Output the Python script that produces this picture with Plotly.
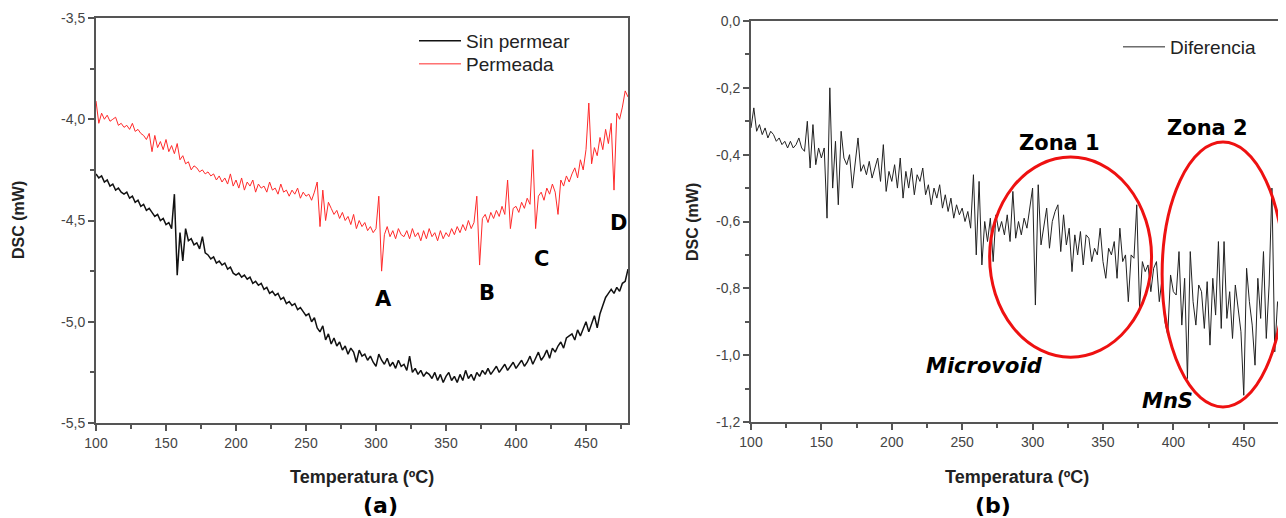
import plotly.graph_objects as go

# temperature grid shared by all curves (ºC)
temps = list(range(100, 481, 2))

# panel (a): DSC curves, mW
sin_permear = [
    -4.27, -4.29, -4.28, -4.31, -4.30, -4.33, -4.32, -4.35, -4.34, -4.36,
    -4.37, -4.36, -4.39, -4.38, -4.41, -4.40, -4.43, -4.42, -4.45, -4.44,
    -4.46, -4.48, -4.47, -4.50, -4.49, -4.52, -4.51, -4.54, -4.37, -4.77,
    -4.56, -4.70, -4.54, -4.60, -4.59, -4.62, -4.61, -4.64, -4.58, -4.66,
    -4.67, -4.69, -4.68, -4.71, -4.70, -4.72, -4.71, -4.74, -4.73, -4.76,
    -4.77, -4.76, -4.78, -4.77, -4.79, -4.78, -4.81, -4.80, -4.82, -4.81,
    -4.84, -4.83, -4.86, -4.85, -4.87, -4.86, -4.89, -4.88, -4.91, -4.90,
    -4.92, -4.91, -4.94, -4.93, -4.95, -4.97, -4.96, -5.00, -4.98, -5.03,
    -5.05, -5.02, -5.09, -5.06, -5.11, -5.08, -5.12, -5.10, -5.14, -5.12,
    -5.16, -5.13, -5.15, -5.20, -5.14, -5.17, -5.16, -5.19, -5.17, -5.20,
    -5.22, -5.16, -5.19, -5.21, -5.18, -5.22, -5.20, -5.23, -5.19, -5.22,
    -5.21, -5.24, -5.17, -5.25, -5.23, -5.26, -5.24, -5.27, -5.25, -5.26,
    -5.28, -5.25, -5.29, -5.26, -5.30, -5.27, -5.25, -5.29, -5.27, -5.30,
    -5.26, -5.29, -5.24, -5.28, -5.26, -5.29, -5.25, -5.27, -5.24, -5.26,
    -5.23, -5.26, -5.24, -5.22, -5.25, -5.23, -5.21, -5.24, -5.22, -5.20,
    -5.23, -5.21, -5.19, -5.22, -5.20, -5.17, -5.21, -5.18, -5.15, -5.19,
    -5.17, -5.14, -5.18, -5.13, -5.15, -5.12, -5.10, -5.13, -5.08, -5.07,
    -5.06, -5.09, -5.04, -5.07, -5.03, -5.00, -5.05, -5.01, -4.97, -5.03,
    -4.96, -4.92, -4.88, -4.86, -4.84, -4.86, -4.83, -4.85, -4.81, -4.80,
    -4.74,
]
permeada = [
    -3.91, -4.02, -3.97, -4.00, -3.98, -4.01, -4.00, -3.99, -4.03, -4.02,
    -4.04, -4.03, -4.05, -4.02, -4.06, -4.05, -4.07, -4.08, -4.10, -4.07,
    -4.16, -4.08, -4.14, -4.11, -4.15, -4.10, -4.16, -4.13, -4.17, -4.12,
    -4.20, -4.18, -4.22, -4.21, -4.25, -4.23, -4.24, -4.26, -4.25, -4.27,
    -4.26, -4.28, -4.27, -4.30, -4.28, -4.31, -4.29, -4.32, -4.27, -4.33,
    -4.30, -4.34, -4.29, -4.35, -4.31, -4.33, -4.30, -4.36, -4.32, -4.34,
    -4.33, -4.36, -4.31, -4.35, -4.34, -4.37, -4.32, -4.36, -4.35, -4.38,
    -4.35, -4.37, -4.34, -4.39, -4.36, -4.38, -4.37, -4.40, -4.36, -4.31,
    -4.53, -4.35, -4.50, -4.41, -4.44, -4.47, -4.45, -4.49, -4.46, -4.50,
    -4.48, -4.52, -4.47, -4.54, -4.50, -4.53, -4.51, -4.55, -4.53, -4.56,
    -4.54, -4.38, -4.75, -4.57, -4.53, -4.58, -4.55, -4.59, -4.54, -4.57,
    -4.58, -4.55, -4.59, -4.54, -4.58, -4.56, -4.60, -4.55, -4.59, -4.54,
    -4.58, -4.56, -4.60, -4.55, -4.59, -4.56, -4.58, -4.54, -4.57, -4.53,
    -4.56, -4.52, -4.55, -4.50, -4.54, -4.51, -4.38, -4.72, -4.49, -4.47,
    -4.51, -4.46, -4.49, -4.45, -4.48, -4.43, -4.47, -4.30, -4.54, -4.44,
    -4.43, -4.46, -4.41, -4.44, -4.39, -4.42, -4.15, -4.54, -4.38, -4.36,
    -4.40, -4.34, -4.37, -4.32, -4.36, -4.47, -4.30, -4.33, -4.28, -4.31,
    -4.27, -4.24, -4.29, -4.20, -4.25, -4.15, -3.92, -4.22, -4.14, -4.18,
    -4.09, -4.15, -4.05, -4.12, -4.02, -4.35, -3.97, -4.00, -3.94, -3.86,
    -3.89,
]

# panel (b): difference curve, mW
diferencia = [
    -0.32, -0.26, -0.33, -0.31, -0.34, -0.32, -0.35, -0.33, -0.34, -0.36,
    -0.35, -0.37, -0.36, -0.38, -0.36, -0.38, -0.37, -0.35, -0.38, -0.39,
    -0.30, -0.44, -0.31, -0.43, -0.38, -0.41, -0.38, -0.59, -0.20, -0.50,
    -0.36, -0.55, -0.33, -0.41, -0.43, -0.40, -0.50, -0.42, -0.35, -0.45,
    -0.43, -0.46, -0.42, -0.47, -0.44, -0.41, -0.48, -0.37, -0.51, -0.45,
    -0.48, -0.43, -0.50, -0.41, -0.53, -0.45, -0.50, -0.44, -0.52, -0.46,
    -0.48, -0.44, -0.52, -0.49, -0.55, -0.50, -0.53, -0.49, -0.56, -0.52,
    -0.57, -0.53, -0.59, -0.55, -0.58, -0.56, -0.60, -0.57, -0.62, -0.46,
    -0.70, -0.48, -0.73, -0.60, -0.66, -0.59, -0.72, -0.58, -0.63, -0.60,
    -0.64, -0.58, -0.66, -0.51, -0.65, -0.60, -0.64, -0.59, -0.62, -0.56,
    -0.50, -0.85, -0.49, -0.67, -0.62, -0.56, -0.68, -0.60, -0.57, -0.55,
    -0.69, -0.58, -0.67, -0.62, -0.75, -0.64, -0.70, -0.63, -0.73, -0.64,
    -0.65, -0.72, -0.68, -0.70, -0.62, -0.72, -0.77, -0.68, -0.70, -0.66,
    -0.77, -0.62, -0.72, -0.70, -0.84, -0.70, -0.71, -0.55, -0.86, -0.72,
    -0.75, -0.73, -0.81, -0.74, -0.72, -0.84, -0.77, -0.90, -0.94, -0.76,
    -0.81, -0.82, -0.69, -0.91, -0.77, -1.07, -0.69, -0.84, -0.91, -0.79,
    -0.81, -0.92, -0.78, -0.97, -0.77, -0.88, -0.66, -0.92, -0.66, -0.89,
    -0.81, -0.95, -0.79, -0.86, -0.93, -1.12, -0.74, -0.84, -0.91, -1.03,
    -0.77, -0.89, -0.69, -0.95, -0.79, -0.50, -0.99, -0.84, -0.89, -0.97,
    -0.93,
]

# y tick labels as printed (plain hyphen, decimal comma)
yticks_a = [-5.5, -5.0, -4.5, -4.0, -3.5]
ylabels_a = ["-5,5", "-5,0", "-4,5", "-4,0", "-3,5"]
yticks_b = [-1.2, -1.0, -0.8, -0.6, -0.4, -0.2, 0.0]
ylabels_b = ["-1,2", "-1,0", "-0,8", "-0,6", "-0,4", "-0,2", "0,0"]

# peak labels in panel (a)
peak_labels = ["A", "B", "C", "D"]
peak_x = [305, 379, 418, 473]
peak_y = [-4.89, -4.86, -4.69, -4.51]

# the page body has an 8px margin, so the figure is shifted by that much
OFF = 8
W, H = 1286 - OFF, 518 - OFF


def fx(px):
    return (px - OFF) / W


def fy(py):
    return 1 - (py - OFF) / H


axis_col = "#555555"
tick_font = dict(family="Liberation Sans, Arial", size=14, color="#444444")
bold_font = dict(family="DejaVu Sans", size=21, color="black")
legend_font = dict(family="Liberation Sans, Arial", size=19, color="#222222")

fig = go.Figure()
fig.add_trace(go.Scatter(x=temps, y=sin_permear, name="Sin permear", mode="lines",
                         line=dict(color="#111111", width=1.5), legend="legend"))
fig.add_trace(go.Scatter(x=temps, y=permeada, name="Permeada", mode="lines",
                         line=dict(color="#ff2a2a", width=1), legend="legend2"))
fig.add_trace(go.Scatter(x=temps, y=diferencia, name="Diferencia", mode="lines",
                         line=dict(color="#222222", width=1),
                         xaxis="x2", yaxis="y2", legend="legend3"))

xcommon = dict(range=[100, 480], dtick=50, ticks="outside", ticklen=6, tickwidth=1.5,
               tickcolor=axis_col, showline=True, linecolor=axis_col, linewidth=2,
               mirror=True, showgrid=False, zeroline=False, tickfont=tick_font,
               automargin=False,
               minor=dict(dtick=25, ticks="outside", ticklen=4, tickcolor=axis_col))
ycommon = dict(ticks="outside", ticklen=6, tickwidth=1.5, tickcolor=axis_col,
               showline=True, linecolor=axis_col, linewidth=2, mirror=True,
               showgrid=False, zeroline=False, tickfont=tick_font,
               automargin=False, tickmode="array")
leg_common = dict(xanchor="left", yanchor="top", itemwidth=42,
                  bgcolor="rgba(0,0,0,0)", font=legend_font)

fig.update_layout(
    width=W, height=H,
    margin=dict(l=0, r=0, t=0, b=0, autoexpand=False),
    paper_bgcolor="white", plot_bgcolor="white",
    showlegend=True,
    xaxis=dict(xcommon, domain=[fx(96), fx(628)], anchor="y"),
    yaxis=dict(ycommon, domain=[fy(423), fy(18)], anchor="x",
               range=[-5.5, -3.5], tickvals=yticks_a, ticktext=ylabels_a,
               minor=dict(dtick=0.25, ticks="outside", ticklen=4, tickcolor=axis_col)),
    xaxis2=dict(xcommon, domain=[fx(751), 1.0], anchor="y2"),
    yaxis2=dict(ycommon, domain=[fy(422), fy(21)], anchor="x2",
                range=[-1.2, 0.0], tickvals=yticks_b, ticktext=ylabels_b,
                minor=dict(dtick=0.1, ticks="outside", ticklen=4, tickcolor=axis_col)),
    legend=dict(leg_common, x=fx(414), y=fy(22)),
    legend2=dict(leg_common, x=fx(414), y=fy(45)),
    legend3=dict(leg_common, x=fx(1118), y=fy(28)),
)

annotations = []
for lab, px_, py_ in zip(peak_labels, peak_x, peak_y):
    annotations.append(dict(x=px_, y=py_, xref="x", yref="y", text="<b>%s</b>" % lab,
                            showarrow=False, font=bold_font))

for cx, cy in [(18, 220), (692, 222)]:
    annotations.append(dict(x=fx(cx), y=fy(cy), xref="paper", yref="paper",
                            xanchor="center", yanchor="middle",
                            text="<b>DSC (mW)</b>", textangle=-90, showarrow=False,
                            font=dict(family="Liberation Sans, Arial", size=16,
                                      color="#222222")))
for cx in [362, 1017]:
    annotations.append(dict(x=fx(cx), y=fy(477), xref="paper", yref="paper",
                            xanchor="center", yanchor="middle",
                            text="<b>Temperatura (ºC)</b>", showarrow=False,
                            font=dict(family="Liberation Sans, Arial", size=18,
                                      color="#222222")))
for cx, lab in [(380, "(a)"), (993, "(b)")]:
    annotations.append(dict(x=fx(cx), y=fy(505), xref="paper", yref="paper",
                            xanchor="center", yanchor="middle",
                            text="<b>%s</b>" % lab, showarrow=False,
                            font=dict(family="DejaVu Sans", size=22, color="black")))

# zone labels in panel (b)
annotations += [
    dict(x=319, y=-0.365, xref="x2", yref="y2", text="<b>Zona 1</b>", showarrow=False,
         font=bold_font),
    dict(x=424, y=-0.32, xref="x2", yref="y2", text="<b>Zona 2</b>", showarrow=False,
         font=bold_font),
    dict(x=266, y=-1.033, xref="x2", yref="y2", text="<b><i>Microvoid</i></b>",
         showarrow=False, font=bold_font),
    dict(x=396, y=-1.137, xref="x2", yref="y2", text="<b><i>MnS</i></b>",
         showarrow=False, font=bold_font),
]
fig.update_layout(annotations=annotations)

fig.add_shape(type="circle", xref="x2", yref="y2", x0=269.5, x1=384.5, y0=-1.006, y1=-0.407,
              line=dict(color="#ee1111", width=3))
fig.add_shape(type="circle", xref="x2", yref="y2", x0=392, x1=478.5, y0=-1.155, y1=-0.362,
              line=dict(color="#ee1111", width=3))

fig.write_html("out.html")
